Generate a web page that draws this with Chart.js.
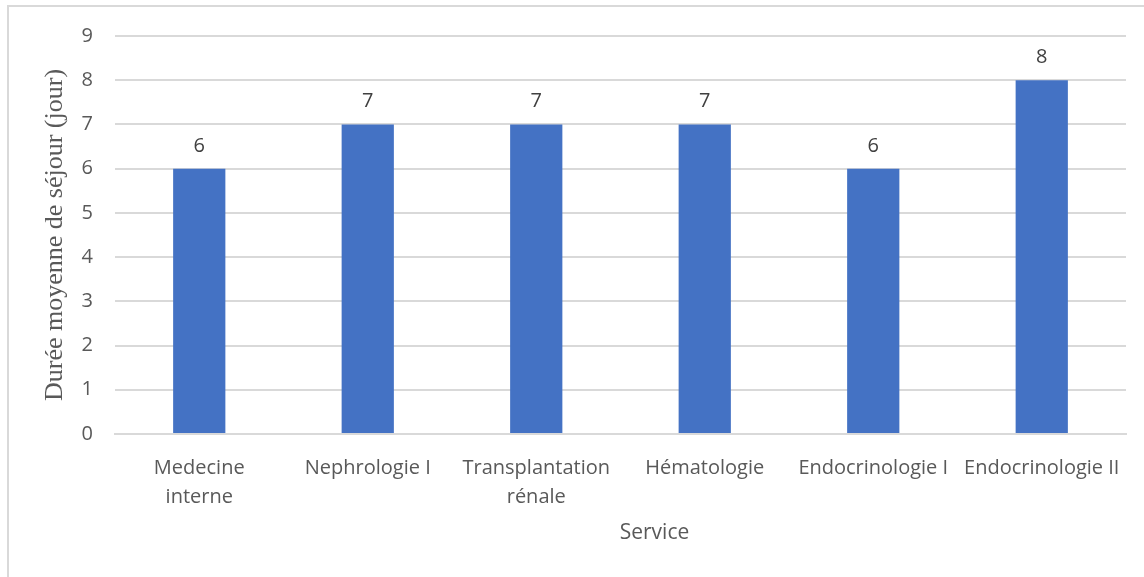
<!DOCTYPE html>
<html>
<head>
<meta charset="utf-8">
<script src="https://cdn.jsdelivr.net/npm/chart.js@4.4.1/dist/chart.umd.min.js"></script>
<style>
  html, body { margin: 0; padding: 0; background: #fff; overflow: hidden; }
  #frame { position: absolute; left: 7px; top: 5px; width: 1200px; height: 640px; border: 2px solid #d9d9d9; }
  #wrap { position: absolute; left: 0; top: 0; width: 1144px; height: 577px; }
</style>
</head>
<body>
<div id="frame"></div>
<div id="wrap"><canvas id="myBarChart" width="1144" height="577"></canvas></div>
<script>
// services (labels sur deux lignes quand Excel les coupe)
const services = [
  ["Medecine", "interne"],
  "Nephrologie I",
  ["Transplantation", "rénale"],
  "Hématologie",
  "Endocrinologie I",
  "Endocrinologie II"
];
const dureeMoyenne = [6, 7, 7, 7, 6, 8];
const yTicks = [0, 1, 2, 3, 4, 5, 6, 7, 8, 9];

const sans = "'Open Sans', 'Liberation Sans', sans-serif";

// etiquettes de valeur au-dessus des barres
const valueLabels = {
  id: 'valueLabels',
  afterDatasetsDraw(chart) {
    const ctx = chart.ctx;
    ctx.save();
    ctx.font = "20px " + sans;
    ctx.fillStyle = '#404040';
    ctx.textAlign = 'center';
    ctx.textBaseline = 'alphabetic';
    chart.getDatasetMeta(0).data.forEach((bar, i) => {
      ctx.fillText(String(chart.data.datasets[0].data[i]), bar.x, bar.y - 17);
    });
    ctx.restore();
  }
};

// titre de l'axe X (Excel le centre un peu a droite du trace)
const xTitle = {
  id: 'xTitle',
  afterDraw(chart) {
    const ctx = chart.ctx;
    const a = chart.chartArea;
    ctx.save();
    ctx.font = "21px " + sans;
    ctx.fillStyle = '#595959';
    ctx.textAlign = 'center';
    ctx.textBaseline = 'middle';
    ctx.fillText('Service', (a.left + a.right) / 2 + 34, 533);
    ctx.restore();
  }
};

const ctx = document.getElementById("myBarChart");
const myBarChart = new Chart(ctx, {
  type: 'bar',
  data: {
    labels: services,
    datasets: [{
      data: dureeMoyenne,
      backgroundColor: '#4472C4',
      borderWidth: 0,
      barPercentage: 0.31,
      categoryPercentage: 1
    }]
  },
  options: {
    responsive: false,
    animation: false,
    layout: { padding: { left: 20, right: 18, top: 36, bottom: 0 } },
    plugins: {
      legend: { display: false },
      tooltip: { enabled: false }
    },
    scales: {
      x: {
        grid: { display: false },
        border: { color: '#d9d9d9', width: 2 },
        ticks: {
          color: '#595959',
          font: { family: sans, size: 20, lineHeight: 1.45 },
          maxRotation: 0,
          autoSkip: false,
          padding: 12
        },
        afterFit(scale) { scale.height = 143; }
      },
      y: {
        min: 0,
        max: 9,
        afterBuildTicks(scale) { scale.ticks = yTicks.map(v => ({ value: v })); },
        grid: { color: '#d9d9d9', lineWidth: 2, drawTicks: false },
        border: { display: false },
        ticks: {
          color: '#595959',
          font: { family: sans, size: 20 },
          padding: 22
        },
        title: {
          display: true,
          text: 'Durée moyenne de séjour (jour)',
          color: '#595959',
          font: { family: "'Liberation Serif', 'DejaVu Serif', serif", size: 26, lineHeight: 1.2 },
          padding: { top: 20, bottom: 0 }
        },
        afterFit(scale) { scale.width = 95; }
      }
    }
  },
  plugins: [valueLabels, xTitle]
});
</script>
</body>
</html>
